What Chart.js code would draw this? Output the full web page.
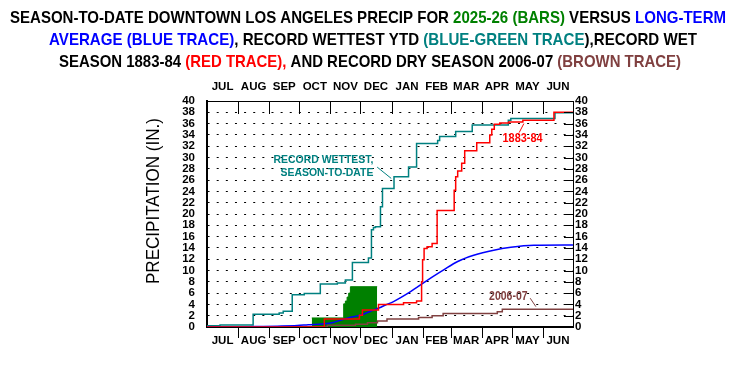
<!DOCTYPE html>
<html>
<head>
<meta charset="utf-8">
<script src="https://cdn.jsdelivr.net/npm/chart.js@4/dist/chart.umd.min.js"></script>
<style>
  html, body { margin: 0; padding: 0; background: #fff; }
  #wrap { width: 732px; height: 368px; }
</style>
</head>
<body>
<div id="wrap"><canvas id="precip" width="732" height="368"></canvas></div>
<script>
// x = day of the season (Jul 1 = 0), y = season-to-date inches
const monthNames = ['JUL', 'AUG', 'SEP', 'OCT', 'NOV', 'DEC', 'JAN', 'FEB', 'MAR', 'APR', 'MAY', 'JUN'];
const monthStartDays = [0, 31, 62, 92, 123, 153, 184, 215, 243, 274, 304, 335, 365];
const yTickValues = [0, 2, 4, 6, 8, 10, 12, 14, 16, 18, 20, 22, 24, 26, 28, 30, 32, 34, 36, 38, 40];

// 2025-26 season to date (green bars)
const season2526Days = [104.5, 136.3, 138, 139.7, 141.3, 143, 169.7];
const season2526Totals = [1.6, 4.1, 4.6, 5.3, 6.0, 7.13, 7.13];

// long-term average (blue)
const averageDays = [0, 30, 48, 70, 90, 101, 115, 126, 133, 141, 153, 166, 172, 178, 186, 203, 220, 236, 250, 266, 286, 303, 326, 365];
const averageTotals = [0, 0.02, 0.08, 0.15, 0.25, 0.4, 0.55, 0.8, 1.2, 1.6, 2.1, 3.0, 3.4, 3.9, 4.5, 6.25, 8.3, 10.1, 11.6, 12.7, 13.6, 14.1, 14.45, 14.5];

// record wettest season-to-date (blue-green)
const wettestDays = [0, 13, 46, 72, 76, 85, 97, 113, 130, 138, 145, 161, 164, 166, 168, 173, 175, 186.5, 201, 209, 230, 232, 248, 264.5, 300.5, 303, 347, 365];
const wettestTotals = [0.2, 0.35, 2.25, 2.5, 2.8, 5.7, 5.95, 7.6, 7.8, 8.3, 11.4, 12.2, 17.2, 17.6, 17.75, 21.3, 24.5, 26.6, 28.3, 32.5, 33.0, 33.7, 34.6, 35.75, 36.6, 36.9, 37.9, 38.0];

// record wet season 1883-84 (red)
const wet1883Days = [0, 117, 152, 155, 171, 196, 209, 214, 215, 216.5, 219.5, 224.5, 229.5, 246.5, 248, 250, 254, 257, 269, 282, 284, 286.5, 292, 301, 315, 346, 365];
const wet1883Totals = [0, 1.4, 2.1, 3.0, 4.0, 4.3, 4.6, 8.0, 11.9, 13.9, 14.2, 14.8, 20.6, 24.2, 26.6, 27.6, 29.0, 31.2, 32.6, 34.0, 35.0, 35.9, 36.1, 36.3, 36.6, 38.0, 38.0];

// record dry season 2006-07 (brown)
const dry2006Days = [0, 120, 148, 160, 170, 179.5, 211, 224.5, 235.5, 289.5, 294.5, 365];
const dry2006Totals = [0, 0.3, 0.5, 0.76, 1.06, 1.4, 1.7, 2.0, 2.4, 2.7, 3.13, 3.13];

const BLACK = '#000000';
const GREEN = '#008000';
const BLUE = '#0000ff';
const TEAL = '#008080';
const RED = '#ff0000';
const BROWN = '#804040';
const FAMILY = "'Liberation Sans', Arial, sans-serif";

const monthMids = monthNames.map((m, i) => (monthStartDays[i] + monthStartDays[i + 1]) / 2);
const toPoints = (days, totals) => days.map((d, i) => ({ x: d, y: totals[i] }));

const titleLines = [
  { left: 10, right: 726, y: 18, parts: [
    ['SEASON-TO-DATE DOWNTOWN LOS ANGELES PRECIP FOR ', BLACK], ['2025-26 (BARS)', GREEN],
    [' VERSUS ', BLACK], ['LONG-TERM', BLUE]] },
  { left: 49, right: 697, y: 40, parts: [
    ['AVERAGE (BLUE TRACE)', BLUE], [', RECORD WETTEST YTD ', BLACK],
    ['(BLUE-GREEN TRACE', TEAL], ['),RECORD WET', BLACK]] },
  { left: 59, right: 681, y: 62, parts: [
    ['SEASON 1883-84 ', BLACK], ['(RED TRACE),', RED],
    [' AND RECORD DRY SEASON 2006-07 ', BLACK], ['(BROWN TRACE)', BROWN]] }
];

// draw text squeezed horizontally to a given width (the original uses a narrow face)
function fitText(ctx, text, x, y, width, font, color, align) {
  ctx.save();
  ctx.font = font;
  const sx = width / ctx.measureText(text).width;
  ctx.translate(x, y);
  ctx.scale(sx, 1);
  ctx.fillStyle = color;
  ctx.textBaseline = 'middle';
  ctx.textAlign = align;
  ctx.fillText(text, 0, 0);
  ctx.restore();
}

const decorPlugin = {
  id: 'decor',
  afterDatasetsDraw(chart) {
    const { ctx, chartArea, scales } = chart;
    ctx.save();
    ctx.strokeStyle = BLACK;
    ctx.lineWidth = 1;
    ctx.beginPath();
    // month boundaries: inside ticks on top, outside ticks on bottom
    monthStartDays.slice(1, -1).forEach(d => {
      const px = Math.round(scales.x.getPixelForValue(d)) + 0.5;
      ctx.moveTo(px, chartArea.top);
      ctx.lineTo(px, chartArea.top + 13);
      ctx.moveTo(px, chartArea.bottom);
      ctx.lineTo(px, chartArea.bottom + 11);
    });
    // right axis ticks point inward
    yTickValues.forEach(v => {
      const py = Math.round(scales.y2.getPixelForValue(v)) + 0.5;
      ctx.moveTo(chartArea.right - 9, py);
      ctx.lineTo(chartArea.right, py);
    });
    ctx.stroke();

    // annotations, placed in data coordinates
    const X = v => scales.x.getPixelForValue(v);
    const Y = v => scales.y.getPixelForValue(v);
    const bold = size => 'bold ' + size + 'px ' + FAMILY;
    fitText(ctx, 'RECORD WETTEST,', X(166), Y(29.6), 100, bold(11.5), TEAL, 'right');
    fitText(ctx, 'SEASON-TO-DATE', X(166), Y(27.2), 93, bold(11.5), TEAL, 'right');
    fitText(ctx, '1883-84', X(294.7), Y(33.4), 40, bold(13), RED, 'left');
    fitText(ctx, '2006-07', X(281.3), Y(5.5), 38.5, bold(13), BROWN, 'left');

    ctx.lineWidth = 1;
    const leader = (x1, y1, x2, y2, color) => {
      ctx.strokeStyle = color;
      ctx.beginPath();
      ctx.moveTo(X(x1), Y(y1));
      ctx.lineTo(X(x2), Y(y2));
      ctx.stroke();
    };
    leader(169.7, 28.3, 183.7, 26.3, TEAL);
    leader(311.3, 34.4, 316, 36.0, RED);
    leader(322.3, 5.1, 328, 3.6, BROWN);
    ctx.restore();
  },
  afterDraw(chart) {
    const { ctx } = chart;
    ctx.save();
    const titleFont = 'bold 17px ' + FAMILY;
    ctx.font = titleFont;
    titleLines.forEach(line => {
      const full = line.parts.map(p => p[0]).join('');
      const sx = (line.right - line.left) / ctx.measureText(full).width;
      let x = line.left;
      line.parts.forEach(([text, color]) => {
        const w = ctx.measureText(text).width * sx;
        fitText(ctx, text, x, line.y, w, titleFont, color, 'left');
        x += w;
      });
    });
    // y axis title
    ctx.translate(154, 201);
    ctx.rotate(-Math.PI / 2);
    fitText(ctx, 'PRECIPITATION (IN.)', 0, 0, 166, '18px ' + FAMILY, BLACK, 'center');
    ctx.restore();
  }
};

const tickFont = { family: FAMILY, size: 11.5, weight: 'bold' };

const monthAxis = (position, height, borderWidth, padding) => ({
  type: 'linear',
  position: position,
  min: 0,
  max: 365,
  afterFit: s => { s.height = height; },
  afterBuildTicks: s => { s.ticks = monthMids.map(v => ({ value: v })); },
  ticks: {
    autoSkip: false,
    maxRotation: 0,
    padding: padding,
    color: BLACK,
    font: tickFont,
    callback: (v, i) => monthNames[i]
  },
  grid: { display: false, drawTicks: false },
  border: { display: true, color: BLACK, width: borderWidth }
});

const valueAxis = (position, width, borderWidth, padding, showGrid) => ({
  type: 'linear',
  position: position,
  min: 0,
  max: 40,
  afterFit: s => { s.width = width; },
  afterBuildTicks: s => { s.ticks = yTickValues.map(v => ({ value: v })); },
  ticks: { autoSkip: false, padding: padding, color: BLACK, font: tickFont },
  grid: { display: showGrid, drawTicks: false, color: BLACK, lineWidth: 1 },
  border: { display: true, color: BLACK, width: borderWidth, dash: [2, 7.13], dashOffset: 0.43 }
});

new Chart(document.getElementById('precip'), {
  type: 'line',
  data: {
    datasets: [
      {
        label: '1883-84',
        data: toPoints(wet1883Days, wet1883Totals),
        borderColor: RED, borderWidth: 1.5, stepped: true,
        pointRadius: 0, fill: false, order: 1
      },
      {
        label: 'Long-term average',
        data: toPoints(averageDays, averageTotals),
        borderColor: BLUE, borderWidth: 1.5, cubicInterpolationMode: 'monotone',
        pointRadius: 0, fill: false, order: 2
      },
      {
        label: 'Record wettest YTD',
        data: toPoints(wettestDays, wettestTotals),
        borderColor: TEAL, borderWidth: 1.5, stepped: true,
        pointRadius: 0, fill: false, order: 3
      },
      {
        label: '2006-07',
        data: toPoints(dry2006Days, dry2006Totals),
        borderColor: BROWN, borderWidth: 1.5, stepped: true,
        pointRadius: 0, fill: false, order: 4
      },
      {
        label: '2025-26',
        data: toPoints(season2526Days, season2526Totals),
        borderColor: GREEN, backgroundColor: GREEN, borderWidth: 1, stepped: true,
        pointRadius: 0, fill: 'origin', order: 5
      }
    ]
  },
  options: {
    responsive: false,
    devicePixelRatio: 1,
    animation: false,
    layout: { padding: 0 },
    plugins: {
      legend: { display: false },
      tooltip: { enabled: false }
    },
    scales: {
      x: monthAxis('bottom', 41, 2, 7.4),
      xTop: monthAxis('top', 101, 1, 7),
      y: valueAxis('left', 207, 2, 12, true),
      y2: valueAxis('right', 159, 1, 2, false)
    }
  },
  plugins: [decorPlugin]
});
</script>
</body>
</html>
